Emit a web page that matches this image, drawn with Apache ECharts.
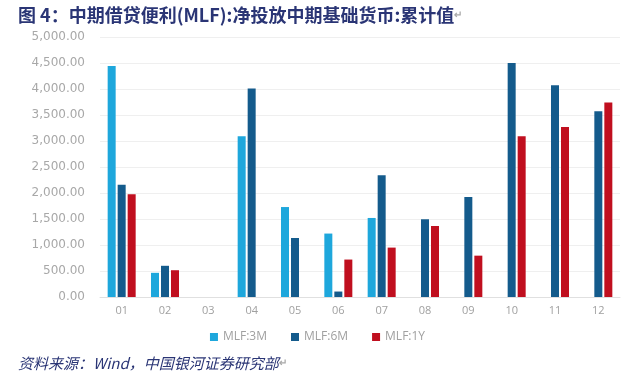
<!DOCTYPE html>
<html><head><meta charset="utf-8">
<script src="https://cdn.jsdelivr.net/npm/echarts@6/dist/echarts.min.js"></script>
<style>html,body{margin:0;padding:0;background:#fff}#c{width:635px;height:383px}</style>
</head><body><div id="c"></div>
<script>
var categories = ['01','02','03','04','05','06','07','08','09','10','11','12'];
var mlf3M = [4440, 465, null, 3090, 1730, 1220, 1520, null, null, null, null, null];
var mlf6M = [2160, 600, null, 4010, 1135, 105, 2340, 1495, 1925, 4500, 4070, 3570];
var mlf1Y = [1975, 515, null, null, null, 720, 950, 1365, 795, 3090, 3270, 3740];
var seriesNames = ['MLF:3M', 'MLF:6M', 'MLF:1Y'];
var titleText = '图 4：中期借贷便利(MLF):净投放中期基础货币:累计值';
var sourceText = '资料来源：Wind，中国银河证券研究部';

var chart = echarts.init(document.getElementById('c'));
var colors = ['#1ea7dc', '#145b8c', '#c00f1f'];
function fmt(v){ return v.toLocaleString('en-US',{minimumFractionDigits:2, maximumFractionDigits:2}); }
chart.setOption({
  animation: false,
  color: colors,
  title: [{
    text: '{t|' + titleText + '}{r|↵}',
    left: 13, top: 1,
    textStyle: { rich: {
      t: { fontFamily: 'Noto Sans CJK SC', fontSize: 18, fontWeight: 'bold', color: '#2a3575' },
      r: { fontSize: 10, color: '#aaaaaa' }
    }}
  }, {
    text: '{t|' + sourceText + '}{r|↵}',
    left: 13, top: 351,
    textStyle: { rich: {
      t: { fontFamily: 'Noto Sans CJK SC', fontSize: 15, fontStyle: 'italic', fontWeight: 'normal', color: '#2a3575' },
      r: { fontSize: 10, color: '#aaaaaa' }
    }}
  }],
  legend: {
    data: seriesNames,
    top: 326, left: 'center',
    itemWidth: 8, itemHeight: 8, itemGap: 24,
    icon: 'rect',
    textStyle: { color: '#a0a0a0', fontSize: 12, fontFamily: 'Open Sans' }
  },
  grid: { left: 100, right: 15, top: 37, bottom: 86 },
  xAxis: {
    type: 'category', data: categories,
    axisLine: { lineStyle: { color: '#e0e0e0' } },
    axisTick: { show: false },
    axisLabel: { color: '#a0a0a0', fontSize: 11, fontFamily: 'Open Sans', margin: 8 }
  },
  yAxis: {
    type: 'value', min: 0, max: 5000, interval: 500,
    axisLine: { show: false }, axisTick: { show: false },
    splitLine: { lineStyle: { color: '#efefef' } },
    axisLabel: { color: '#a8a8a8', fontSize: 12, fontFamily: 'DejaVu Sans', margin: 15, formatter: fmt }
  },
  series: [
    { name: seriesNames[0], type: 'bar', data: mlf3M, barWidth: 8, barGap: '25%' },
    { name: seriesNames[1], type: 'bar', data: mlf6M, barWidth: 8, barGap: '25%' },
    { name: seriesNames[2], type: 'bar', data: mlf1Y, barWidth: 8, barGap: '25%' }
  ]
});
</script></body></html>
